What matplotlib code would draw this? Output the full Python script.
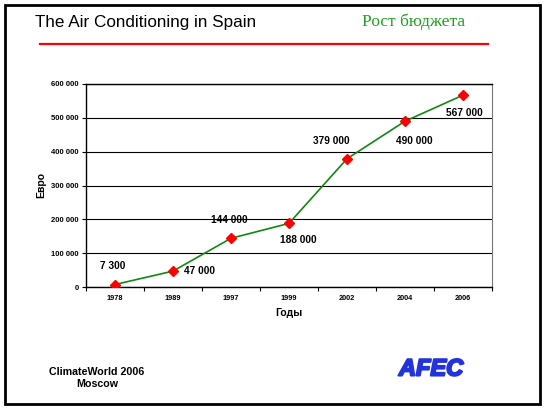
"""Slide chart: budget growth of air conditioning in Spain."""

import matplotlib.pyplot as plt
import matplotlib.patheffects as pe
from matplotlib.patches import Rectangle
from matplotlib.ticker import FixedLocator, FuncFormatter

years = ['1978', '1989', '1997', '1999', '2002', '2004', '2006']
budget = [7300, 47000, 144000, 188000, 379000, 490000, 567000]
value_labels = ['7 300', '47 000', '144 000', '188 000', '379 000', '490 000', '567 000']
y_ticks = [0, 100000, 200000, 300000, 400000, 500000, 600000]

# label offsets in points (dx, dy) relative to each marker
label_offsets = [(-2, 13), (19, 0), (-1.5, 13), (7, -12), (-11, 13), (6.5, -14), (1, -13)]

W, H = 545, 408
plt.rcParams['font.family'] = ['Liberation Sans', 'DejaVu Sans']

fig = plt.figure(figsize=(W / 100, H / 100), dpi=100)
fig.patch.set_facecolor('white')

# slide border
fig.patches.append(Rectangle((5 / W, 4 / H), 535 / W, 399 / H, transform=fig.transFigure,
                             fill=False, edgecolor='black', linewidth=2))

# header
fig.text(35 / W, 1 - 23 / H, 'The Air Conditioning in Spain', fontsize=12.3, va='center', ha='left')
fig.text(414 / W, 1 - 22 / H, 'Рост бюджета', fontsize=12.5, va='center', ha='center',
         color='#22a022', family=['Liberation Serif', 'DejaVu Serif'])
fig.add_artist(plt.Line2D([40 / W, 488 / W], [1 - 44 / H, 1 - 44 / H], color='red',
                          linewidth=1.6, transform=fig.transFigure))

# footer
fig.text(97 / W, 1 - 378 / H, 'ClimateWorld 2006\nMoscow', fontsize=7.7, fontweight='bold',
         ha='center', va='center', linespacing=1.25)
fig.text(431 / W, 1 - 369 / H, 'AFEC', fontsize=17, fontweight='heavy', fontstyle='italic',
         ha='center', va='center', color='#2233dd',
         path_effects=[pe.withStroke(linewidth=1.5, foreground='#2233dd')])

# chart area
left, right, top, bottom = 86, 492, 84, 287
ax = fig.add_axes([left / W, 1 - bottom / H, (right - left) / W, (bottom - top) / H])
x = list(range(len(years)))
ax.plot(x, budget, color='#118811', linewidth=1.2, marker='D', markersize=5,
        markerfacecolor='red', markeredgecolor='red', zorder=3)

for xi, yi, txt, (dx, dy) in zip(x, budget, value_labels, label_offsets):
    ax.annotate(txt, (xi, yi), xytext=(dx, dy), textcoords='offset points',
                ha='center', va='center', fontsize=7.3, fontweight='bold')

ax.set_xlim(-0.5, len(years) - 0.5)
ax.set_ylim(0, 600000)
ax.set_yticks(y_ticks)
ax.yaxis.set_major_formatter(FuncFormatter(lambda v, p: f'{int(v):,}'.replace(',', ' ')))
ax.set_xticks(x)
ax.set_xticklabels(years)
ax.xaxis.set_minor_locator(FixedLocator([i - 0.5 for i in range(len(years) + 1)]))
ax.tick_params(axis='x', which='major', length=0, pad=6, labelsize=5.3)
ax.tick_params(axis='x', which='minor', length=3, direction='out', width=0.8)
ax.tick_params(axis='y', length=3, direction='out', width=0.8, labelsize=5.5, pad=2)
for lab in ax.get_xticklabels() + ax.get_yticklabels():
    lab.set_fontweight('bold')

ax.grid(axis='y', color='black', linewidth=0.8)
ax.set_axisbelow(True)
for side in ['left', 'bottom', 'top']:
    ax.spines[side].set_linewidth(1.0)
ax.spines['right'].set_color('#777777')

ax.set_xlabel('Годы', fontsize=7.5, fontweight='bold', labelpad=4)
ax.set_ylabel('Евро', fontsize=7.5, fontweight='bold', labelpad=4)

fig.savefig('out.png', dpi=100)
